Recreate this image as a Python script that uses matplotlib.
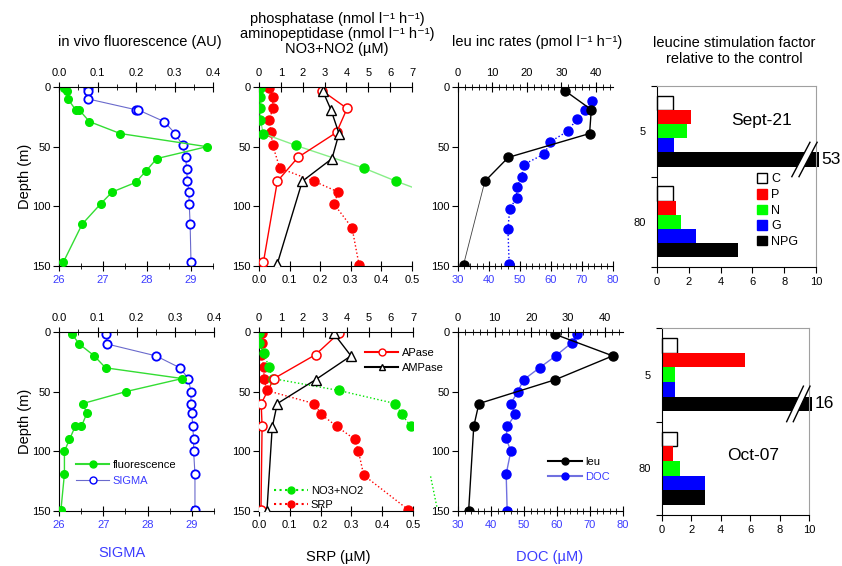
import matplotlib.pyplot as plt
from matplotlib.ticker import MultipleLocator
from matplotlib.patches import Patch, Polygon
from matplotlib.lines import Line2D

plt.rcParams['font.family'] = ['Liberation Sans', 'DejaVu Sans']

# ---------------- data: Sept-21 (top row) ----------------
s_fluo_depth = [1, 3, 10, 19, 19, 29, 39, 50, 60, 70, 80, 88, 98, 115, 147]
s_fluo = [0.014, 0.022, 0.023, 0.043, 0.052, 0.079, 0.159, 0.384, 0.254,
          0.227, 0.199, 0.138, 0.108, 0.060, 0.011]
s_sig_depth = [1, 3, 10, 19, 19, 29, 39, 49, 59, 69, 79, 88, 98, 115, 147]
s_sigma = [26.66, 26.66, 26.66, 27.74, 27.79, 28.39, 28.64, 28.81, 28.88,
           28.90, 28.92, 28.95, 28.96, 28.98, 29.00]

s_no3_depth = [1, 8, 18, 28, 39, 49, 68, 79, 90]
s_no3 = [0.06, 0.06, 0.06, 0.06, 0.2, 1.69, 4.8, 6.28, 7.9]
s_srp_depth = [1, 8, 18, 28, 38, 49, 68, 79, 88, 98, 118, 149]
s_srp = [0.033, 0.045, 0.045, 0.033, 0.039, 0.045, 0.068, 0.18, 0.259,
         0.245, 0.304, 0.327]
s_apase_depth = [3, 18, 38, 59, 79, 147]
s_apase = [2.88, 4.03, 3.55, 1.78, 0.84, 0.2]
s_ampase_depth = [3, 19, 39, 60, 79, 148]
s_ampase = [2.91, 3.29, 3.66, 3.34, 1.98, 0.84]

s_leu_depth = [3, 19, 39, 59, 79, 149]
s_leu = [31.0, 38.7, 38.2, 14.6, 7.8, 1.6]
s_doc_depth = [12, 19, 27, 37, 46, 56, 65, 75, 84, 93, 102, 119, 148]
s_doc = [73.2, 70.9, 68.3, 65.4, 59.7, 57.9, 51.2, 50.6, 48.9, 48.9, 46.7,
         46.1, 46.5]

# ---------------- data: Oct-07 (bottom row) ----------------
o_fluo_depth = [2, 10, 20, 30, 39, 50, 60, 68, 79, 79, 90, 100, 119, 149]
o_fluo = [0.034, 0.052, 0.091, 0.120, 0.318, 0.172, 0.061, 0.072, 0.058,
          0.042, 0.027, 0.014, 0.014, 0.005]
o_sig_depth = [2, 10, 20, 30, 39, 50, 60, 68, 79, 90, 100, 119, 149]
o_sigma = [27.07, 27.08, 28.19, 28.73, 28.92, 28.98, 28.98, 29.00, 29.02,
           29.04, 29.04, 29.07, 29.07]

o_no3_depth = [1, 9, 18, 29, 39, 49, 60, 69, 79]
o_no3 = [0.0, 0.0, 0.23, 0.44, 0.62, 3.63, 6.2, 6.49, 6.9]
o_no3_deep_depth = [121, 148]
o_no3_deep = [7.8, 8.1]
o_srp_depth = [1, 9, 19, 29, 39, 49, 60, 69, 79, 90, 100, 120, 149]
o_srp = [0.01, 0.01, 0.006, 0.016, 0.016, 0.025, 0.179, 0.202, 0.252,
         0.311, 0.323, 0.34, 0.485]
o_apase_depth = [1, 19, 39, 60, 79, 149]
o_apase = [3.63, 2.57, 0.68, 0.1, 0.14, 0.09]
o_ampase_depth = [1, 20, 40, 60, 80, 150]
o_ampase = [3.39, 4.18, 2.57, 0.83, 0.6, 0.36]

o_leu_depth = [2, 20, 40, 60, 79, 150]
o_leu = [26.5, 42.2, 26.5, 5.7, 4.3, 2.9]
o_doc_depth = [2, 9, 20, 30, 40, 50, 60, 69, 79, 89, 100, 119, 150]
o_doc = [66.1, 64.5, 59.6, 54.7, 49.9, 48.1, 46.0, 47.4, 44.9, 44.6, 46.0,
         44.6, 44.9]

# ---------------- data: stimulation factors ----------------
treatments = ['C', 'P', 'N', 'G', 'NPG']
bar_colors = ['white', '#ff0000', '#00ff00', '#0000ff', '#000000']
depth_groups = ['5', '80']
sept_5 = [1.0, 2.14, 1.89, 1.07, 53]
sept_80 = [1.0, 1.17, 1.53, 2.47, 5.09]
oct_5 = [1.0, 5.65, 0.86, 0.86, 16]
oct_80 = [1.0, 0.73, 1.2, 2.93, 2.93]

W, H = 842, 566
GREEN = '#00e600'
GREEN_LN = '#33dd33'
RED = '#ff0000'
BLUE = '#0000ff'
SIG_LN = '#6a6acc'
LBLUE = '#3c3cff'

fig = plt.figure(figsize=(W / 100, H / 100), dpi=100)
fig.patch.set_facecolor('white')


def rect(x0, x1, y0, y1):
    return [x0 / W, 1 - y1 / H, (x1 - x0) / W, (y1 - y0) / H]


def profile_axes(r, top_lim, top_major, top_minor, bot_lim, bot_major,
                 bot_minor, bot_color):
    ax = fig.add_axes(r)
    ax2 = ax.twiny()
    ax.set_ylim(150, 0)
    ax.set_yticks([0, 50, 100, 150])
    ax.set_xlim(bot_lim)
    ax2.set_xlim(top_lim)
    ax.xaxis.set_major_locator(MultipleLocator(bot_major))
    ax2.xaxis.set_major_locator(MultipleLocator(top_major))
    if bot_minor:
        ax.xaxis.set_minor_locator(MultipleLocator(bot_minor))
    if top_minor:
        ax2.xaxis.set_minor_locator(MultipleLocator(top_minor))
    for a in (ax, ax2):
        for s in a.spines.values():
            s.set_visible(False)
    ax.spines['left'].set_visible(True)
    ax.spines['bottom'].set_visible(True)
    ax2.spines['top'].set_visible(True)
    ax.tick_params(axis='x', which='major', direction='inout', length=7,
                   labelsize=8, labelcolor=bot_color, pad=3)
    ax.tick_params(axis='x', which='minor', direction='inout', length=4)
    ax2.tick_params(axis='x', which='major', direction='inout', length=7,
                    labelsize=8, pad=3)
    ax2.tick_params(axis='x', which='minor', direction='inout', length=4)
    ax.tick_params(axis='y', direction='out', length=4, labelsize=8, pad=2)
    return ax, ax2


def fluo_panel(r, fd, fv, sd, sv):
    ax, ax2 = profile_axes(r, (0, 0.4), 0.1, 0.05, (26, 29.5), 1, 0.5, LBLUE)
    ax.plot(sv, sd, color=SIG_LN, lw=0.8, marker='o', ms=6, mfc='white',
            mec=BLUE, mew=1.3)
    ax2.plot(fv, fd, color=GREEN_LN, lw=1.0, marker='o', ms=5.5, mfc=GREEN,
             mec=GREEN)
    return ax, ax2


def nut_panel(r, no3d, no3, srpd, srp, apd, ap, amd, am, no3_style):
    ax, ax2 = profile_axes(r, (0, 7), 1, None, (0, 0.5), 0.1, None, 'black')
    ax.plot(srp, srpd, color=RED, lw=1.0, ls=':', marker='o', ms=6.5,
            mfc=RED, mec=RED)
    ax2.plot(no3, no3d, color=no3_style[0], lw=1.0, ls=no3_style[1],
             marker='o', ms=6.5, mfc=GREEN, mec=GREEN)
    ax2.plot(ap, apd, color=RED, lw=1.0, marker='o', ms=6.5, mfc='white',
             mec=RED, mew=1.1)
    ax2.plot(am, amd, color='black', lw=1.0, marker='^', ms=6.5,
             mfc='white', mec='black', mew=1.0)
    return ax, ax2


def leu_panel(r, ld, lv, dd, dv, doc_style, thin_tail=False):
    ax, ax2 = profile_axes(r, (0, 45), 10, 2, (30, 80), 10, 2, LBLUE)
    ax.plot(dv, dd, color=doc_style[0], lw=1.0, ls=doc_style[1], marker='o',
            ms=6.5, mfc=BLUE, mec=BLUE)
    if thin_tail:
        ax2.plot(lv[-2:], ld[-2:], color='#404040', lw=0.6)
        ax2.plot(lv[:-1], ld[:-1], color='black', lw=1.0)
        ax2.plot(lv, ld, ls='none', marker='o', ms=6.5, mfc='black',
                 mec='black')
    else:
        ax2.plot(lv, ld, color='black', lw=1.0, marker='o', ms=6.5,
                 mfc='black', mec='black')
    return ax, ax2


def bar_panel(r, v5, v80, label_text, label_pos, cap=10.2):
    ax = fig.add_axes(r)
    h = 0.156
    for gi, vals in enumerate([v5, v80]):
        for i, (v, c) in enumerate(zip(vals, bar_colors)):
            y = gi + 0.5 + (i - 2) * h
            ax.barh(y, min(v, cap), height=h, color=c,
                    edgecolor='black' if c == 'white' else c,
                    linewidth=1.0 if c == 'white' else 0, clip_on=False)
            if v > cap:
                ax.text(cap + 0.15, y, f'{v:g}', fontsize=12.5, va='center',
                        ha='left', clip_on=False)
                # axis break marks across the long bar
                bx, dy, sl, gap = 9.05, 0.19, 0.57, 0.45
                pts = [(bx - sl, y + dy), (bx + sl, y - dy),
                       (bx + sl + gap, y - dy), (bx - sl + gap, y + dy)]
                ax.add_patch(Polygon(pts, closed=True, facecolor='white',
                                     edgecolor='none', clip_on=False,
                                     zorder=4))
                for off in (0, gap):
                    ax.plot([bx - sl + off, bx + sl + off], [y + dy, y - dy],
                            color='black', lw=1.0, clip_on=False, zorder=5)
    ax.set_xlim(0, 10)
    ax.set_ylim(2, 0)
    ax.set_xticks([0, 2, 4, 6, 8, 10])
    ax.set_yticks([0, 1, 2])
    ax.set_yticklabels([])
    ax.set_yticks([0.5, 1.5], minor=True)
    ax.set_yticklabels(depth_groups, minor=True)
    ax.tick_params(axis='y', which='minor', length=0, labelsize=8, pad=8)
    ax.tick_params(axis='y', which='major', direction='out', length=4)
    ax.tick_params(axis='x', direction='out', length=4, labelsize=8)
    for s in ('top', 'right'):
        ax.spines[s].set_color('#a0a0a0')
    ax.text(label_pos[0], label_pos[1], label_text, transform=ax.transAxes,
            fontsize=12.5, ha='center', va='center')
    return ax


def line_legend(ax, handles, labels, anchor, spacing, blue_second=False):
    leg = ax.legend(handles, labels, loc='upper left', bbox_to_anchor=anchor,
                    frameon=False, fontsize=8, handlelength=3,
                    handletextpad=0.3, labelspacing=spacing, borderaxespad=0)
    if blue_second:
        leg.get_texts()[1].set_color(LBLUE)
    return leg


# ---------------- top row ----------------
ax1t, ax1t2 = fluo_panel(rect(59, 213, 87, 266), s_fluo_depth, s_fluo,
                         s_sig_depth, s_sigma)
ax2t, ax2t2 = nut_panel(rect(259, 412, 87, 266), s_no3_depth, s_no3,
                        s_srp_depth, s_srp, s_apase_depth, s_apase,
                        s_ampase_depth, s_ampase, ('#88ee88', '-'))
ax3t, ax3t2 = leu_panel(rect(458, 613, 87, 266), s_leu_depth, s_leu,
                        s_doc_depth, s_doc, (BLUE, ':'), thin_tail=True)
ax4t = bar_panel(rect(657, 816, 86, 267), sept_5, sept_80, 'Sept-21',
                 (0.66, 0.81))
ax4t.legend([Patch(facecolor=c, edgecolor='black' if c == 'white' else c)
             for c in bar_colors], treatments, loc='upper left',
            bbox_to_anchor=(0.6, 0.545), frameon=False, fontsize=9,
            handlelength=0.8, handleheight=0.8, handletextpad=0.3,
            labelspacing=0.28, borderaxespad=0)

# ---------------- bottom row ----------------
ax1b, ax1b2 = fluo_panel(rect(59, 214, 332, 511), o_fluo_depth, o_fluo,
                         o_sig_depth, o_sigma)
ax2b, ax2b2 = nut_panel(rect(259, 413, 332, 511), o_no3_depth, o_no3,
                        o_srp_depth, o_srp, o_apase_depth, o_apase,
                        o_ampase_depth, o_ampase, (GREEN, ':'))
ax2b2.plot(o_no3_deep, o_no3_deep_depth, color=GREEN, lw=1.0, ls=':',
           clip_on=False)
ax3b, ax3b2 = leu_panel(rect(458, 623, 332, 511), o_leu_depth, o_leu,
                        o_doc_depth, o_doc, ('#7070e0', '-'))
ax4b = bar_panel(rect(662, 809, 328, 515), oct_5, oct_80, 'Oct-07',
                 (0.62, 0.32))

# legends in the bottom row
line_legend(ax1b,
            [Line2D([], [], color=GREEN_LN, marker='o', ms=5, mfc=GREEN,
                    mec=GREEN),
             Line2D([], [], color=SIG_LN, lw=0.8, marker='o', ms=5,
                    mfc='white', mec=BLUE)],
            ['fluorescence', 'SIGMA'], (0.08, 0.31), 0.55, blue_second=True)

leg_a = line_legend(ax2b,
                    [Line2D([], [], color=RED, marker='o', ms=5,
                            mfc='white', mec=RED),
                     Line2D([], [], color='black', marker='^', ms=5,
                            mfc='white', mec='black')],
                    ['APase', 'AMPase'], (0.66, 0.935), 0.45)
ax2b.add_artist(leg_a)
line_legend(ax2b,
            [Line2D([], [], color=GREEN, ls=':', marker='o', ms=5,
                    mfc=GREEN, mec=GREEN),
             Line2D([], [], color=RED, ls=':', marker='o', ms=5,
                    mfc=RED, mec=RED)],
            ['NO3+NO2', 'SRP'], (0.07, 0.165), 0.35)

line_legend(ax3b,
            [Line2D([], [], color='black', marker='o', ms=5, mfc='black',
                    mec='black'),
             Line2D([], [], color='#7070e0', marker='o', ms=5, mfc=BLUE,
                    mec=BLUE)],
            ['leu', 'DOC'], (0.52, 0.325), 0.4, blue_second=True)

# ---------------- titles and labels ----------------
fig.text(140 / W, 1 - 42 / H, 'in vivo fluorescence (AU)', fontsize=10.5,
         ha='center', va='center')
fig.text(337 / W, 1 - 34 / H,
         'phosphatase (nmol l\u207b\u00b9 h\u207b\u00b9)\n'
         'aminopeptidase (nmol l\u207b\u00b9 h\u207b\u00b9)\n'
         'NO3+NO2 (µM)',
         fontsize=10.5, ha='center', va='center', linespacing=1.06)
fig.text(537 / W, 1 - 42 / H, 'leu inc rates (pmol l\u207b\u00b9 h\u207b\u00b9)',
         fontsize=10.5, ha='center', va='center')
fig.text(734 / W, 1 - 51 / H, 'leucine stimulation factor\nrelative to the control',
         fontsize=10.5, ha='center', va='center', linespacing=1.25)

for yc in (176, 421):
    fig.text(25 / W, 1 - yc / H, 'Depth (m)', fontsize=10.5, rotation=90,
             ha='center', va='center')

fig.text(122 / W, 1 - 553 / H, 'SIGMA', fontsize=10.5, color=LBLUE,
         ha='center', va='center')
fig.text(338 / W, 1 - 557 / H, 'SRP (µM)', fontsize=10.5, ha='center',
         va='center')
fig.text(550 / W, 1 - 557 / H, 'DOC (µM)', fontsize=10.5, color=LBLUE,
         ha='center', va='center')

fig.savefig('out.png', dpi=100, facecolor='white')
